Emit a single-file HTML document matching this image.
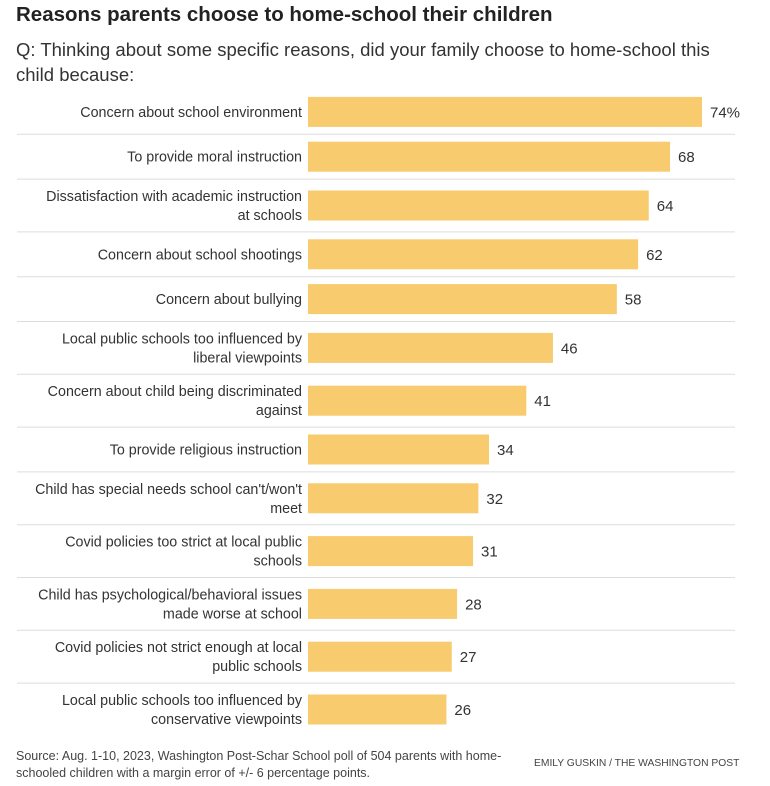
<!DOCTYPE html>
<html><head><meta charset="utf-8"><style>
body{margin:0;background:#fff;font-family:"Liberation Sans",sans-serif;color:#333;}
#wrap{position:relative;width:770px;height:786px;overflow:hidden;}
.t{position:absolute;white-space:nowrap;}
</style></head><body>
<div id="wrap">
<div class="t" style="left:16px;top:3px;font-size:20.5px;font-weight:bold;color:#222;">Reasons parents choose to home-school their children</div>
<div class="t" style="left:16px;top:37px;font-size:18.5px;line-height:25px;color:#333;white-space:normal;width:700px;">Q: Thinking about some specific reasons, did your family choose to home-school this child because:</div>
<svg id="chart" width="770" height="786" style="position:absolute;left:0;top:0"></svg>
<div class="t" style="left:16px;top:748px;font-size:12.5px;line-height:17px;color:#444;">Source: Aug. 1-10, 2023, Washington Post-Schar School poll of 504 parents with home-<br>schooled children with a margin error of +/- 6 percentage points.</div>
<div class="t" style="left:534px;top:758px;font-size:10.3px;color:#444;">EMILY GUSKIN / THE WASHINGTON POST</div>
</div>
<script>
const categories=[["Concern about school environment"],["To provide moral instruction"],["Dissatisfaction with academic instruction","at schools"],["Concern about school shootings"],["Concern about bullying"],["Local public schools too influenced by","liberal viewpoints"],["Concern about child being discriminated","against"],["To provide religious instruction"],["Child has special needs school can't/won't","meet"],["Covid policies too strict at local public","schools"],["Child has psychological/behavioral issues","made worse at school"],["Covid policies not strict enough at local","public schools"],["Local public schools too influenced by","conservative viewpoints"]];
const values=[74,68,64,62,58,46,41,34,32,31,28,27,26];
const valueLabels=["74%","68","64","62","58","46","41","34","32","31","28","27","26"];
const svg=document.getElementById('chart');
const NS='http://www.w3.org/2000/svg';
const x0=308,pxPer=394/74;
function xScale(v){return x0+v*pxPer;}
let y=89.5;
categories.forEach((lines,i)=>{
  const h=lines.length>1?52.8:44.8;
  const cy=y+h/2;
  const r=document.createElementNS(NS,'rect');
  r.setAttribute('x',x0);r.setAttribute('y',cy-15);r.setAttribute('width',xScale(values[i])-x0);r.setAttribute('height',30);r.setAttribute('fill','#f7cb6e');
  
  
  svg.appendChild(r);
  const v=document.createElementNS(NS,'text');
  v.setAttribute('x',xScale(values[i])+8);v.setAttribute('y',cy+5.5);v.setAttribute('font-size','15');v.setAttribute('fill','#333');v.setAttribute('font-family','Liberation Sans, sans-serif');
  v.textContent=valueLabels[i];
  
  
  svg.appendChild(v);
  const t=document.createElementNS(NS,'text');
  t.setAttribute('text-anchor','end');t.setAttribute('font-size','14.3');t.setAttribute('fill','#333');t.setAttribute('font-family','Liberation Sans, sans-serif');
  
  
  lines.forEach((ln,j)=>{
    const ts=document.createElementNS(NS,'tspan');
    ts.setAttribute('x',302);
    ts.setAttribute('y',cy+5+(j-(lines.length-1)/2)*19);
    ts.textContent=ln;t.appendChild(ts);
  });
  svg.appendChild(t);
  y+=h;
  if(i<categories.length-1){
    const l=document.createElementNS(NS,'line');
    l.setAttribute('x1',17);l.setAttribute('x2',735);l.setAttribute('y1',y);l.setAttribute('y2',y);l.setAttribute('stroke','#ddd');l.setAttribute('stroke-width','1');
    
    
    svg.appendChild(l);
  }
});
</script>
</body></html>
